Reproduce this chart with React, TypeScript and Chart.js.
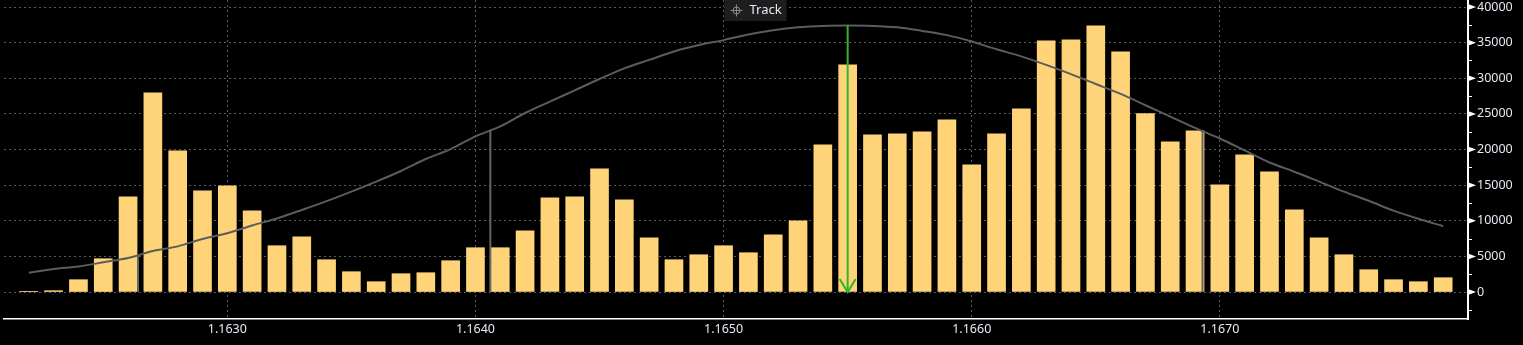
import React, { useEffect, useRef } from "react";
import { Chart, registerables } from "chart.js";

Chart.register(...registerables);

// ---- data ----
const priceLevels = [
  1.1622, 1.1623, 1.1624, 1.1625, 1.1626, 1.1627, 1.1628, 1.1629, 1.163, 1.1631,
  1.1632, 1.1633, 1.1634, 1.1635, 1.1636, 1.1637, 1.1638, 1.1639, 1.164, 1.1641,
  1.1642, 1.1643, 1.1644, 1.1645, 1.1646, 1.1647, 1.1648, 1.1649, 1.165, 1.1651,
  1.1652, 1.1653, 1.1654, 1.1655, 1.1656, 1.1657, 1.1658, 1.1659, 1.166, 1.1661,
  1.1662, 1.1663, 1.1664, 1.1665, 1.1666, 1.1667, 1.1668, 1.1669, 1.167, 1.1671,
  1.1672, 1.1673, 1.1674, 1.1675, 1.1676, 1.1677, 1.1678, 1.1679,
];

const volumes = [
  100, 190, 1730, 4675, 13370, 27960, 19820, 14210, 14910, 11410,
  6500, 7760, 4535, 2850, 1450, 2570, 2710, 4395, 6220, 6220,
  8600, 13230, 13370, 17300, 12950, 7620, 4535, 5235, 6500, 5515,
  8040, 10000, 20660, 31880, 22065, 22205, 22485, 24170, 17860, 22205,
  25710, 35250, 35390, 37350, 33710, 25060, 21085, 22630, 15050, 19260,
  16880, 11550, 7620, 5235, 3130, 1730, 1450, 2010,
];

const fitCurve = [
  2710, 3230, 3580, 4170, 4770, 5760, 6410, 7450, 8240, 9340,
  10330, 11520, 12760, 14100, 15500, 16990, 18670, 20060, 21850, 23240,
  25130, 26720, 28310, 29900, 31390, 32580, 33770, 34670, 35360, 36160,
  36750, 37150, 37350, 37400, 37350, 37150, 36650, 36060, 35160, 34070,
  33080, 31880, 30590, 29200, 27810, 26220, 24630, 23040, 21550, 19870,
  18180, 16890, 15500, 14100, 12810, 11420, 10280, 9240,
];

// vertical markers: price, top value
const grayMarkerPrices = [1.16264, 1.16406, 1.16693];
const grayMarkerTops = [5060, 22750, 22750];
const meanPrice = 1.1655;
const meanTop = 37450;

const xTickValues = [1.163, 1.164, 1.165, 1.166, 1.167];
const yTickValues = [0, 5000, 10000, 15000, 20000, 25000, 30000, 35000, 40000];
const yMinorTickValues = [-2500, 2500, 7500, 12500, 17500, 22500, 27500, 32500, 37500];

const X_MIN = 1.1621;
const X_MAX = 1.168;
const Y_MIN = -3786;
const Y_MAX = 40990;

const FONT = "'Noto Sans', 'Liberation Sans', sans-serif";
const LABEL_COLOR = "#e4eaf3";

const zeroPad = (scale: any) => {
  scale.paddingTop = 0;
  scale.paddingBottom = 0;
  scale.paddingLeft = 0;
  scale.paddingRight = 0;
};

const decorPlugin = {
  id: "decor",
  afterDatasetsDraw(chart: any) {
    const { ctx, scales } = chart;
    const xs = scales.x;
    const ys = scales.y;
    const ax = xs.getPixelForValue(meanPrice);
    const ay = ys.getPixelForValue(0);
    ctx.save();
    ctx.strokeStyle = "#2fb52f";
    ctx.lineWidth = 2;
    ctx.beginPath();
    ctx.moveTo(ax - 8, ay - 13);
    ctx.lineTo(ax, ay);
    ctx.lineTo(ax + 8, ay - 13);
    ctx.stroke();
    ctx.restore();
  },
  afterDraw(chart: any) {
    const { ctx, scales } = chart;
    const xs = scales.x;
    const ys = scales.y;
    const x0 = ys.left;
    ctx.save();
    ctx.fillStyle = "#ffffff";
    ctx.strokeStyle = "#ffffff";
    ctx.lineWidth = 1;
    yTickValues.forEach((v) => {
      const py = ys.getPixelForValue(v);
      ctx.beginPath();
      ctx.moveTo(x0, py - 3);
      ctx.lineTo(x0 + 8, py);
      ctx.lineTo(x0, py + 3);
      ctx.closePath();
      ctx.fill();
    });
    yMinorTickValues.forEach((v) => {
      const py = Math.round(ys.getPixelForValue(v)) + 0.5;
      ctx.beginPath();
      ctx.moveTo(x0, py);
      ctx.lineTo(x0 + 4, py);
      ctx.stroke();
    });

    // "Track" badge
    const bx = Math.round(xs.getPixelForValue(1.165)) + 0.5;
    const by = 0;
    ctx.fillStyle = "#1e1e1e";
    ctx.fillRect(bx, by, 62, 21);
    const cx = bx + 12;
    const cy = by + 10.5;
    ctx.strokeStyle = "#8a8a8a";
    ctx.lineWidth = 1;
    ctx.beginPath();
    ctx.arc(cx, cy, 3.5, 0, Math.PI * 2);
    ctx.stroke();
    ctx.beginPath();
    ctx.moveTo(cx - 6, cy);
    ctx.lineTo(cx + 6, cy);
    ctx.moveTo(cx, cy - 6);
    ctx.lineTo(cx, cy + 6);
    ctx.stroke();
    ctx.fillStyle = LABEL_COLOR;
    ctx.font = `13px ${FONT}`;
    ctx.textBaseline = "middle";
    ctx.textAlign = "left";
    ctx.fillText("Track", bx + 25, cy);
    ctx.restore();
  },
};

export default function App() {
  const ref = useRef<HTMLCanvasElement | null>(null);

  useEffect(() => {
    if (!ref.current) return;
    const bars = priceLevels.map((p, i) => ({ x: p, y: volumes[i] }));
    const curve = priceLevels.map((p, i) => ({ x: p, y: fitCurve[i] }));
    const markerSets = grayMarkerPrices.map((p, i) => ({
      type: "line",
      data: [
        { x: p, y: 0 },
        { x: p, y: grayMarkerTops[i] },
      ],
      borderColor: "#666666",
      borderWidth: 2,
      pointRadius: 0,
      order: 0,
    }));

    const chart = new Chart(ref.current, {
      type: "bar",
      data: {
        datasets: [
          {
            type: "line",
            data: [
              { x: meanPrice, y: 0 },
              { x: meanPrice, y: meanTop },
            ],
            borderColor: "#2fb52f",
            borderWidth: 2,
            pointRadius: 0,
            order: -1,
          },
          ...markerSets,
          {
            type: "line",
            data: curve,
            borderColor: "#5c5c5c",
            borderWidth: 2,
            pointRadius: 0,
            tension: 0.3,
            order: 1,
          },
          {
            type: "bar",
            data: bars,
            backgroundColor: "#FFD479",
            barThickness: 18,
            order: 2,
          },
        ] as any,
      },
      options: {
        animation: false,
        responsive: false,
        devicePixelRatio: 1,
        layout: { padding: { left: 4, top: 0, right: 0, bottom: 0 } },
        plugins: {
          legend: { display: false },
          tooltip: { enabled: false },
        },
        scales: {
          x: {
            type: "linear",
            min: X_MIN,
            max: X_MAX,
            offset: false,
            grid: {
              offset: false,
              color: "#5a5a5a",
              lineWidth: 1,
              drawTicks: false,
            },
            border: { display: true, color: "#ffffff", width: 1.5, dash: [2, 3] },
            afterBuildTicks: (scale: any) => {
              scale.ticks = xTickValues.map((v) => ({ value: v }));
            },
            afterFit: (scale: any) => {
              scale.height = 26;
              zeroPad(scale);
            },
            ticks: {
              color: LABEL_COLOR,
              font: { family: FONT, size: 12.5 },
              padding: 3,
              maxRotation: 0,
              autoSkip: false,
              callback: (v: any) => Number(v).toFixed(4),
            },
          },
          y: {
            type: "linear",
            position: "right",
            min: Y_MIN,
            max: Y_MAX,
            grid: {
              color: "#5a5a5a",
              lineWidth: 1,
              drawTicks: false,
            },
            border: { display: true, color: "#ffffff", width: 2, dash: [2, 3] },
            afterBuildTicks: (scale: any) => {
              scale.ticks = yTickValues.map((v) => ({ value: v }));
            },
            afterFit: (scale: any) => {
              scale.width = 55;
              zeroPad(scale);
            },
            ticks: {
              color: LABEL_COLOR,
              font: { family: FONT, size: 12.5 },
              padding: 9,
              autoSkip: false,
              callback: (v: any) => String(v),
            },
          },
        },
      },
      plugins: [decorPlugin],
    } as any);

    return () => chart.destroy();
  }, []);

  return (
    <div
      style={{
        position: "fixed",
        left: 0,
        top: 0,
        width: 1523,
        height: 345,
        background: "#000000",
      }}
    >
      <canvas ref={ref} width={1523} height={345} style={{ display: "block" }} />
    </div>
  );
}
